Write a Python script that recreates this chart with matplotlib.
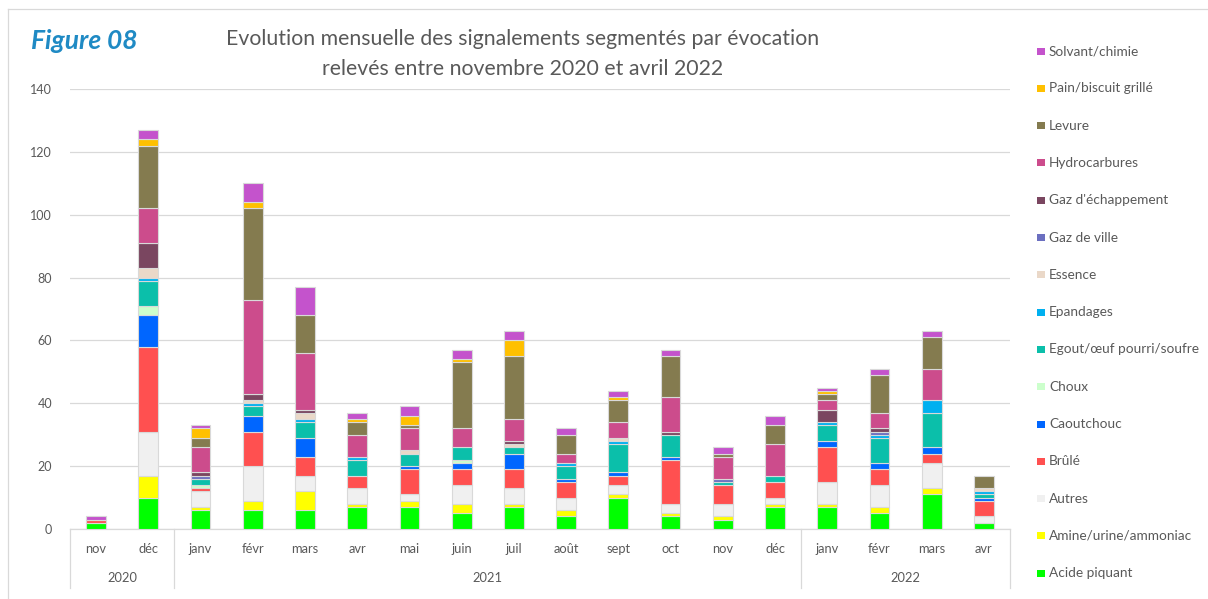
import matplotlib
matplotlib.use('Agg')
import matplotlib.pyplot as plt
from matplotlib.patches import Rectangle
import matplotlib.transforms as mtransforms
import numpy as np

plt.rcParams['font.family'] = ['Lato', 'DejaVu Sans']

months = ['nov', 'déc', 'janv', 'févr', 'mars', 'avr', 'mai', 'juin', 'juil',
          'août', 'sept', 'oct', 'nov', 'déc', 'janv', 'févr', 'mars', 'avr']
years = ['2020', '2021', '2022']
year_counts = [2, 12, 4]

acide = [2, 10, 6, 6, 6, 7, 7, 5, 7, 4, 10, 4, 3, 7, 7, 5, 11, 2]
amine = [0, 7, 1, 3, 6, 1, 2, 3, 1, 2, 1, 1, 1, 1, 1, 2, 2, 0]
autres = [0, 14, 5, 11, 5, 5, 2, 6, 5, 4, 3, 3, 4, 2, 7, 7, 8, 2]
brule = [1, 27, 1, 11, 6, 4, 8, 5, 6, 5, 3, 14, 6, 5, 11, 5, 3, 5]
caoutchouc = [0, 10, 0, 5, 6, 0, 1, 2, 5, 1, 1, 1, 0, 0, 2, 2, 2, 1]
choux = [0, 3, 1, 0, 0, 0, 0, 1, 0, 0, 0, 0, 0, 0, 0, 0, 0, 0]
egout = [0, 8, 2, 3, 5, 5, 4, 4, 2, 4, 9, 7, 1, 2, 5, 8, 11, 1]
epandages = [0, 1, 0, 1, 1, 1, 0, 0, 0, 1, 1, 0, 0, 0, 1, 1, 4, 1]
essence = [0, 3, 0, 1, 2, 0, 1, 0, 1, 0, 1, 0, 0, 0, 0, 0, 0, 1]
gaz_ville = [0, 0, 1, 0, 0, 0, 0, 0, 0, 0, 0, 0, 1, 0, 0, 1, 0, 0]
gaz_echap = [0, 8, 1, 2, 1, 0, 0, 0, 1, 0, 0, 1, 0, 0, 4, 1, 0, 0]
hydrocarbures = [0, 11, 8, 30, 18, 7, 7, 6, 7, 3, 5, 11, 7, 10, 3, 5, 10, 0]
levure = [0, 20, 3, 29, 12, 4, 1, 21, 20, 6, 7, 13, 1, 6, 2, 12, 10, 4]
pain = [0, 2, 3, 2, 0, 1, 3, 1, 5, 0, 1, 0, 0, 0, 1, 0, 0, 0]
solvant = [1, 3, 1, 6, 9, 2, 3, 3, 3, 2, 2, 2, 2, 3, 1, 2, 2, 0]

series_names = ['Acide piquant', 'Amine/urine/ammoniac', 'Autres', 'Brûlé', 'Caoutchouc',
                'Choux', 'Egout/œuf pourri/soufre', 'Epandages', 'Essence', 'Gaz de ville',
                "Gaz d'échappement", 'Hydrocarbures', 'Levure', 'Pain/biscuit grillé',
                'Solvant/chimie']
series_values = [acide, amine, autres, brule, caoutchouc, choux, egout, epandages, essence,
                 gaz_ville, gaz_echap, hydrocarbures, levure, pain, solvant]
series_colors = ['#00FF00', '#FFFF00', '#F0F0F0', '#FF5050', '#0066FF', '#CCFFCC', '#0BBFAA',
                 '#00B0F0', '#EAD8C8', '#6B6FC0', '#7A4660', '#CC4C8C', '#847B4F', '#FFC000',
                 '#C453CC']

W, H = 1208, 599
fig = plt.figure(figsize=(W / 100, H / 100), dpi=100)
ov = fig.add_axes([0, 0, 1, 1])
ov.set_xlim(0, W)
ov.set_ylim(H, 0)
ov.axis('off')

L, R, T, B = 70, 1010, 89, 529
ax = fig.add_axes([L / W, 1 - B / H, (R - L) / W, (B - T) / H])
ax.patch.set_alpha(0)

n = len(months)
x = np.arange(n)
bottom = np.zeros(n)
for name, vals, c in zip(series_names, series_values, series_colors):
    v = np.array(vals, dtype=float)
    lw = np.where(v > 0, 0.8, 0.0)
    ax.bar(x, v, 0.38, bottom=bottom, color=c, edgecolor='#D9D9D9', linewidth=lw, zorder=3)
    bottom += v

ax.set_xlim(-0.5, n - 0.5)
ax.set_ylim(0, 140)
ax.set_yticks(range(0, 141, 20))
ax.yaxis.grid(True, color='#D9D9D9', linewidth=0.9)
ax.set_axisbelow(True)
for s in ['top', 'right', 'left']:
    ax.spines[s].set_visible(False)
ax.spines['bottom'].set_color('#D9D9D9')
ax.spines['bottom'].set_linewidth(0.9)
ax.set_xticks([])
ax.tick_params(axis='y', length=0, pad=13, labelcolor='#595959', labelsize=9)

# multi-level category axis
trans = mtransforms.blended_transform_factory(ax.transData, ov.transData)
for i, m in enumerate(months):
    ov.text(i, 549, m, transform=trans, ha='center', va='center', fontsize=9.3, color='#595959')
edges = np.concatenate([[0], np.cumsum(year_counts)]) - 0.5
for e in edges:
    ov.plot([e, e], [529, 588], transform=trans, color='#D9D9D9', lw=0.9, clip_on=False)
for k, yname in enumerate(years):
    cx = (edges[k] + edges[k + 1]) / 2
    ov.text(cx, 578, yname, transform=trans, ha='center', va='center', fontsize=9.3, color='#595959')

# frame
ov.plot([8, 8], [9, H], color='#D9D9D9', lw=0.9)
ov.plot([8, W], [9, 9], color='#D9D9D9', lw=0.9)

# titles
ov.text(31, 41, 'Figure 08', fontsize=19, fontweight='bold', fontstyle='italic',
        color='#1F8AC4', ha='left', va='center')
ov.text(523, 39, 'Evolution mensuelle des signalements segmentés par évocation',
        fontsize=15.3, color='#595959', ha='center', va='center')
ov.text(523, 69, 'relevés entre novembre 2020 et avril 2022',
        fontsize=15.3, color='#595959', ha='center', va='center')

# legend
for i, (name, c) in enumerate(zip(series_names[::-1], series_colors[::-1])):
    yy = 51 + i * 37.3
    ov.add_patch(Rectangle((1037, yy - 3.5), 8, 7, facecolor=c, edgecolor='none'))
    ov.text(1049, yy, name, ha='left', va='center', fontsize=9.8, color='#595959')

fig.savefig('out.png', dpi=100)
